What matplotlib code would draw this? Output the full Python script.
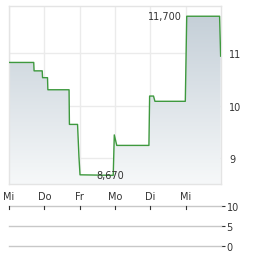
import matplotlib
matplotlib.use("Agg")
import matplotlib.pyplot as plt
import numpy as np
from matplotlib.colors import LinearSegmentedColormap

# data: intraday price ticks (time in trading days from first label)
times = [0.00, 0.70, 0.71, 0.94, 0.95, 1.09, 1.10, 1.70, 1.71, 1.94, 1.98, 2.01,
         2.95, 2.98, 3.05, 3.96, 3.98, 4.09, 4.13, 4.99, 5.03, 5.96, 5.99]
prices = [10.82, 10.82, 10.66, 10.66, 10.53, 10.53, 10.30, 10.30, 9.64, 9.64, 9.02, 8.68,
          8.67, 9.44, 9.24, 9.24, 10.18, 10.18, 10.08, 10.08, 11.70, 11.70, 10.94]
day_labels = ["Mi", "Do", "Fr", "Mo", "Di", "Mi"]
day_pos = [0, 1, 2, 3, 4, 5]
price_ticks = [9, 10, 11]
vol_ticks = [0, 5, 10]
low_label, low_t, low_v = "8,670", 2.48, 8.67
high_label, high_t, high_v = "11,700", 4.90, 11.70

W, H = 264, 255
fig = plt.figure(figsize=(W / 100, H / 100), dpi=100)
txt = "#333333"
fs = 7

ax = fig.add_axes([9 / W, 1 - 185 / H, 212 / W, 178 / H])
ax.set_xlim(0, 6)
ax.set_ylim(8.505, 11.895)

# gradient fill under line
poly = ax.fill_between(times, prices, 8.505, color="none", lw=0)
cmap = LinearSegmentedColormap.from_list("g", ["#f6f8f9", "#c2cdd6"])
grad = np.linspace(0, 1, 256).reshape(-1, 1)
im = ax.imshow(grad, aspect="auto", cmap=cmap, origin="lower",
               extent=[0, 6, 8.505, 11.895], zorder=1)
path = poly.get_paths()[0]
im.set_clip_path(path, transform=ax.transData)

ax.plot(times, prices, color="#3e993e", lw=1.0, zorder=3)

for d in day_pos:
    ax.axvline(d, color="#ebebeb", lw=1, zorder=0)
for p in price_ticks:
    ax.axhline(p, color="#ebebeb", lw=1, zorder=0)

for s in ax.spines.values():
    s.set_color("#e4e4e4")
    s.set_linewidth(1)

ax.yaxis.tick_right()
ax.set_yticks(price_ticks)
ax.set_yticklabels([str(p) for p in price_ticks])
ax.set_xticks(day_pos)
ax.set_xticklabels(day_labels)
ax.tick_params(axis="both", length=0, labelsize=fs, colors=txt)
ax.tick_params(axis="y", pad=6)
ax.tick_params(axis="x", pad=5)

ax.text(low_t, low_v, low_label, fontsize=fs, color=txt, ha="left", va="center", zorder=4)
ax.text(high_t, high_v, high_label, fontsize=fs, color=txt, ha="right", va="center", zorder=4)

# volume panel
vx = fig.add_axes([9 / W, 1 - 247.3 / H, 212 / W, 40 / H])
vx.set_xlim(0, 6)
vx.set_ylim(0, 10)
for v in vol_ticks:
    vx.axhline(v, color="#c8c8c8", lw=1, clip_on=False)
for d in day_pos:
    vx.plot([d, d], [10, 9.3], color="#333333", lw=0.8, clip_on=False)
for s in vx.spines.values():
    s.set_visible(False)
vx.set_xticks([])
vx.yaxis.tick_right()
vx.set_yticks(vol_ticks)
vx.set_yticklabels([str(v) for v in vol_ticks])
vx.tick_params(axis="y", length=3, width=0.8, color="#333333", labelsize=fs,
               labelcolor=txt, pad=1)
vx.patch.set_alpha(0)

fig.savefig("out.png", dpi=100)
